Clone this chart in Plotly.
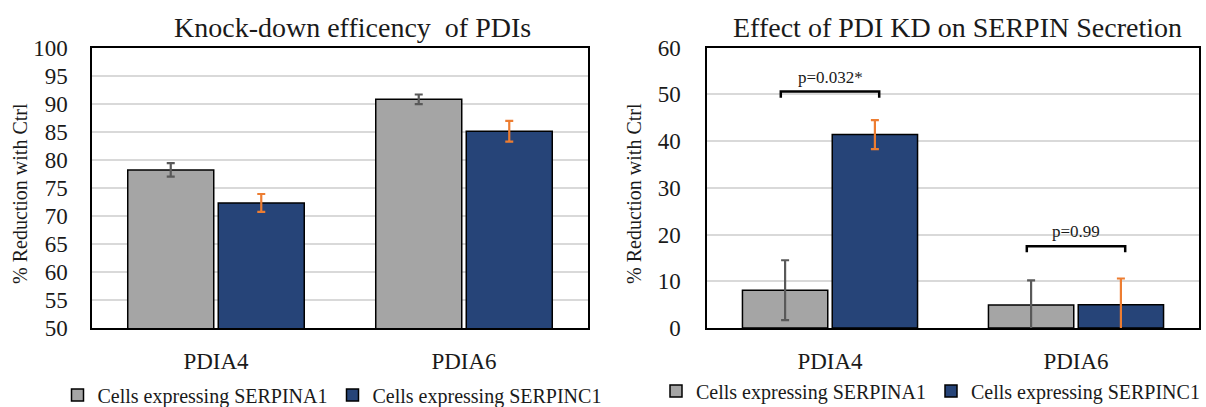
import plotly.graph_objects as go

categories = ["PDIA4", "PDIA6"]
series_names = ["Cells expressing SERPINA1", "Cells expressing SERPINC1"]

# Left chart: Knock-down efficiency
kd_serpina1 = [78.2, 90.8]
kd_serpina1_err = [1.2, 0.85]
kd_serpinc1 = [72.3, 85.1]
kd_serpinc1_err = [1.6, 1.85]

# Right chart: Secretion effect
sec_serpina1 = [8.1, 4.9]
sec_serpina1_err = [6.4, 5.3]
sec_serpinc1 = [41.4, 5.0]
sec_serpinc1_err = [3.1, 5.6]

# significance brackets (right chart)
bracket_levels = [50.6, 17.5]
bracket_labels = ["p=0.032*", "p=0.99"]

titles = ["Knock-down efficency  of PDIs", "Effect of PDI KD on SERPIN Secretion"]
y_title = "% Reduction with Ctrl"

GRAY = "#a5a5a5"
NAVY = "#264478"
ERR_GRAY = "#595959"
ORANGE = "#ed7d31"
FONT = "'Liberation Serif', 'Times New Roman', Times, serif"
TXT = "#1a1a1a"

fig = go.Figure()

def add_pair(a_vals, a_err, c_vals, c_err, xa, ya, legend):
    fig.add_trace(go.Bar(
        x=categories, y=a_vals, name=series_names[0], xaxis=xa, yaxis=ya,
        marker=dict(color=GRAY, line=dict(color="black", width=1.5)),
        error_y=dict(type="data", array=a_err, color=ERR_GRAY, thickness=2.2, width=4),
        legend=legend,
    ))
    fig.add_trace(go.Bar(
        x=categories, y=c_vals, name=series_names[1], xaxis=xa, yaxis=ya,
        marker=dict(color=NAVY, line=dict(color="black", width=1.5)),
        error_y=dict(type="data", array=c_err, color=ORANGE, thickness=2.2, width=4),
        legend=legend,
    ))

add_pair(kd_serpina1, kd_serpina1_err, kd_serpinc1, kd_serpinc1_err, "x", "y", "legend")
add_pair(sec_serpina1, sec_serpina1_err, sec_serpinc1, sec_serpinc1_err, "x2", "y2", "legend2")

ydom = [1 - 328 / 407, 1 - 47.7 / 407]
xdom1 = [92 / 1206, 588 / 1206]
xdom2 = [707 / 1206, 1199 / 1206]

axis_common = dict(showline=True, mirror=True, linecolor="black", linewidth=1.5,
                   tickfont=dict(family=FONT, size=23, color=TXT))

fig.update_layout(
    width=1206, height=407,
    margin=dict(l=0, r=0, t=0, b=0, autoexpand=False),
    paper_bgcolor="white", plot_bgcolor="white",
    barmode="group", bargap=0.27, bargroupgap=0.05,
    font=dict(family=FONT, color=TXT),
    xaxis=dict(domain=xdom1, anchor="y", ticks="", ticklabelstandoff=12, **axis_common),
    yaxis=dict(domain=ydom, anchor="x", range=[50, 100], dtick=5, showgrid=True,
               gridcolor="#d9d9d9", gridwidth=1.5, ticks="", ticklabelstandoff=18,
               zeroline=False, **axis_common),
    xaxis2=dict(domain=xdom2, anchor="y2", ticks="", ticklabelstandoff=12, **axis_common),
    yaxis2=dict(domain=ydom, anchor="x2", range=[0, 60], dtick=10, showgrid=True,
                gridcolor="#d9d9d9", gridwidth=1.5, ticks="", ticklabelstandoff=20,
                zeroline=False, **axis_common),
    legend=dict(orientation="h", x=332 / 1206, xanchor="center", y=1 - 395 / 407,
                yanchor="middle", font=dict(family=FONT, size=20, color=TXT),
                bgcolor="rgba(0,0,0,0)"),
    legend2=dict(orientation="h", x=1205 / 1206, xanchor="right", y=1 - 391 / 407,
                 yanchor="middle", font=dict(family=FONT, size=20, color=TXT),
                 bgcolor="rgba(0,0,0,0)"),
)

# titles
title_x = [352 / 1206, 957 / 1206]
for t, tx in zip(titles, title_x):
    fig.add_annotation(text=t, x=tx, y=1 - 27 / 407, xref="paper", yref="paper",
                       xanchor="center", yanchor="middle", showarrow=False,
                       font=dict(family=FONT, size=28, color=TXT))

# y axis titles
for yx in [20 / 1206, 634 / 1206]:
    fig.add_annotation(text=y_title, x=yx, y=1 - 194 / 407, xref="paper", yref="paper",
                       xanchor="center", yanchor="middle", showarrow=False, textangle=-90,
                       font=dict(family=FONT, size=20, color=TXT))

# significance brackets on right chart
half = 0.2
drop = 1.3
for i, (lvl, lab) in enumerate(zip(bracket_levels, bracket_labels)):
    x0, x1 = i - half, i + half
    fig.add_shape(type="path", xref="x2", yref="y2",
                  path=f"M {x0},{lvl - drop} L {x0},{lvl} L {x1},{lvl} L {x1},{lvl - drop}",
                  line=dict(color="black", width=2.5))
    fig.add_annotation(text=lab, x=i, y=lvl + 0.6, xref="x2", yref="y2",
                       xanchor="center", yanchor="bottom", showarrow=False,
                       font=dict(family=FONT, size=17, color=TXT))

fig.write_html("out.html")
